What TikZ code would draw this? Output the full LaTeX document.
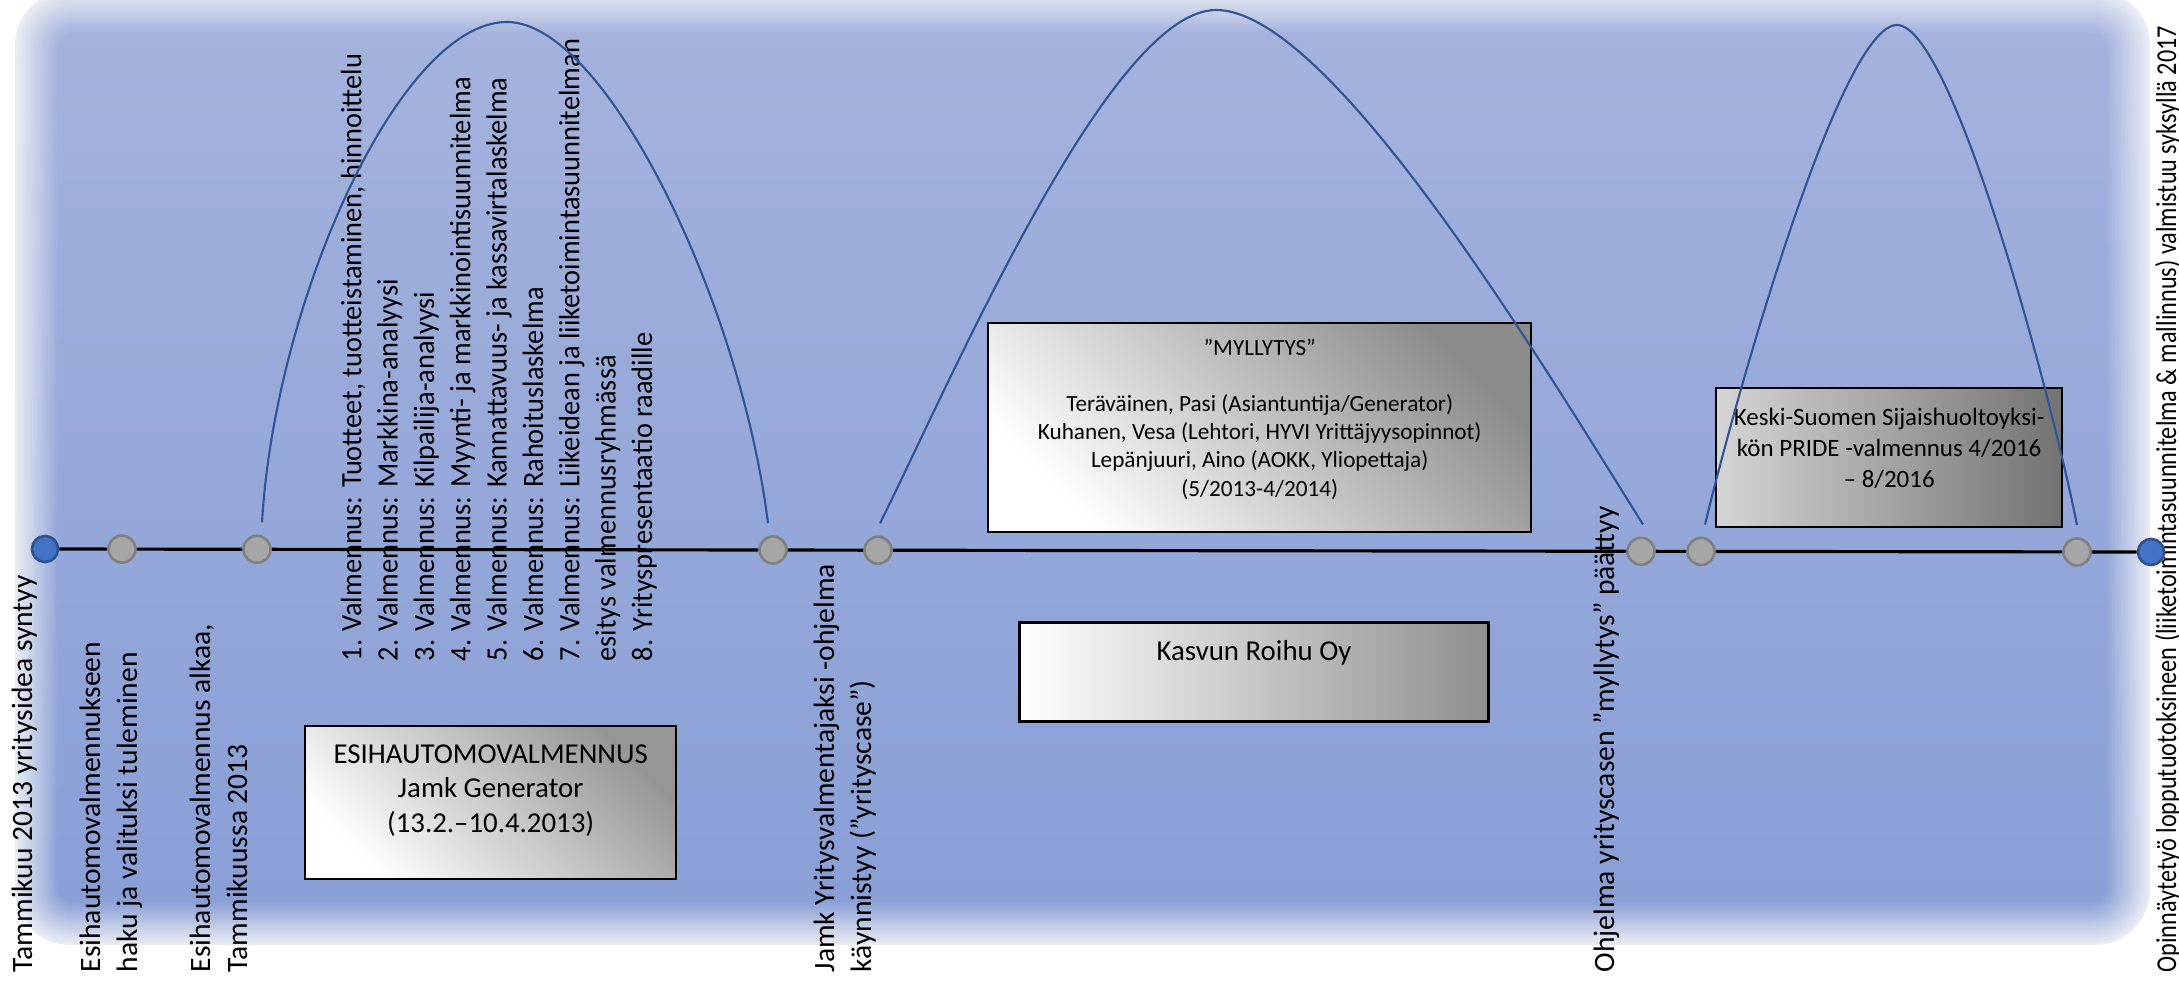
\documentclass[tikz,border=0pt]{standalone}
\usepackage{fontspec}
\setmainfont{Carlito}
\newfontfamily\listfont[FakeStretch=0.96]{Carlito}
\newfontfamily\slimfont[FakeStretch=0.84]{Carlito}
\usetikzlibrary{calc}

\definecolor{bgtop}{RGB}{164,178,221}
\definecolor{bgbot}{RGB}{137,159,214}
\definecolor{bgedge}{RGB}{238,240,245}
\definecolor{arcblue}{RGB}{47,85,151}
\definecolor{dotgray}{RGB}{166,166,166}
\definecolor{dotrim}{RGB}{128,128,128}
\definecolor{dotblue}{RGB}{68,114,196}
\definecolor{dotblueline}{RGB}{47,82,143}
\definecolor{shadeA}{RGB}{150,150,150}
\definecolor{shadeB}{RGB}{140,140,140}
\definecolor{shadeC}{RGB}{143,143,143}
\definecolor{shadeCl}{RGB}{213,213,213}
\definecolor{shadeCr}{RGB}{114,114,114}

\tikzset{
  event/.style={circle, fill=dotgray, draw=dotrim, line width=0.75pt,
    minimum size=0.27cm, inner sep=0pt},
  endpoint/.style={circle, fill=dotblue, draw=dotblueline, line width=0.75pt,
    minimum size=0.26cm, inner sep=0pt},
  % multi-line nodes sit on the baseline of their last line
  vlabel/.style={rotate=90, anchor=base west, align=left, inner sep=0pt,
    font=\fontsize{8.4}{10.5}\selectfont},
  panel/.style={draw=black, line width=0.6pt, inner sep=0pt, anchor=north west},
  paneltext/.style={anchor=base, align=center, inner sep=0pt},
  arcline/.style={draw=arcblue, line width=0.6pt},
  timeline/.style={draw=black, line width=0.9pt}
}

\begin{document}
\begin{tikzpicture}[x=0.01cm, y=-0.01cm]
\useasboundingbox (0,0) rectangle (2179,985);
\clip (0,0) rectangle (2179,985);
\fill[white] (0,0) rectangle (2179,985);

% soft-edged blue backdrop
\foreach \k in {0,...,19}{
  \pgfmathsetmacro\inset{2.25*\k}
  \pgfmathtruncatemacro\mix{5*(\k+1)}
  \pgfmathsetmacro\rad{0.55-0.02*\k}
  \shade[rounded corners=\rad cm, top color=bgtop!\mix!bgedge, bottom color=bgbot!\mix!bgedge]
    (15+\inset,-10+\inset) rectangle (2150-\inset,945-\inset);
}

% panels
\node[panel, minimum width=3.71cm, minimum height=1.53cm,
      top color=shadeA, bottom color=white, shading angle=-45] (esi) at (304,725) {};
\node[paneltext, font=\fontsize{8.2}{9.7}\selectfont] (esitext) at ($(esi.north)+(0,107)$)
  {ESIHAUTOMOVALMENNUS\\Jamk Generator\\(13.2.–10.4.2013)};

\node[panel, minimum width=5.43cm, minimum height=2.09cm,
      top color=shadeB, bottom color=white, shading angle=-45] (myl) at (987,322) {};
\node[paneltext, font=\fontsize{6.6}{8}\selectfont] (myltext) at ($(myl.north)+(0,174)$)
  {”MYLLYTYS”\\[8pt]Teräväinen, Pasi (Asiantuntija/Generator)\\Kuhanen, Vesa (Lehtori, HYVI Yrittäjyysopinnot)\\Lepänjuuri, Aino (AOKK, Yliopettaja)\\(5/2013-4/2014)};

\node[panel, line width=0.8pt, minimum width=4.69cm, minimum height=0.99cm,
      left color=white, right color=shadeC] (kas) at (1018,621) {};
\node[paneltext, font=\fontsize{8.2}{9.7}\selectfont] (kastext) at ($(kas.north)+(0,39)$)
  {Kasvun Roihu Oy};

\node[panel, minimum width=3.46cm, minimum height=1.39cm,
      left color=shadeCl, right color=shadeCr] (pride) at (1715,387) {};
\node[paneltext, font=\fontsize{7.1}{8.8}\selectfont] (pridetext) at ($(pride.north)+(0,100)$)
  {Keski-Suomen Sijaishuoltoyksi-\\kön PRIDE -valmennus 4/2016\\– 8/2016};

% vertical captions under the timeline
\node[vlabel] (c0) at (32,973) {Tammikuu 2013 yritysidea syntyy};
\node[vlabel] (c1) at (137,973) {Esihautomovalmennukseen\\haku ja valituksi tuleminen};
\node[vlabel] (c2) at (247,973) {Esihautomovalmennus alkaa,\\Tammikuussa 2013};
\node[vlabel, font=\listfont\fontsize{8.4}{10.33}\selectfont] (steps) at (652,662)
  {1. Valmennus: Tuotteet, tuotteistaminen, hinnoittelu\\
   2. Valmennus: Markkina-analyysi\\
   3. Valmennus: Kilpailija-analyysi\\
   4. Valmennus: Myynti- ja markkinointisuunnitelma\\
   5. Valmennus: Kannattavuus- ja kassavirtalaskelma\\
   6. Valmennus: Rahoituslaskelma\\
   7. Valmennus: Liikeidean ja liiketoimintasuunnitelman\\
   esitys valmennusryhmässä\\
   8. Yrityspresentaatio raadille};
\node[vlabel] (c3) at (871,973) {Jamk Yritysvalmentajaksi -ohjelma\\käynnistyy (”yrityscase”)};
\node[vlabel] (c4) at (1614,973) {Ohjelma yrityscasen ”myllytys” päättyy};
\node[vlabel, font=\slimfont\fontsize{8.2}{9}\selectfont] (c5) at (2176,973)
  {Opinnäytetyö lopputuotoksineen (liiketoimintasuunnitelma \& mallinnus) valmistuu syksyllä 2017};

% timeline events
\node[endpoint] (d0) at (45,549) {};
\node[event] (g1) at (122,549.1) {};
\node[event] (g2) at (257,549.3) {};
\node[event] (g3) at (773,550) {};
\node[event] (g4) at (878,550.2) {};
\node[event] (g5) at (1641,551.3) {};
\node[event] (g6) at (1701,551.4) {};
\node[event] (g7) at (2077,551.9) {};
\node[endpoint] (d8) at (2151,552) {};

% arcs spanning the phases
\draw[arcline] ($(g2.north)+(5,-12)$) .. controls +(13,-223) and (400,22) .. (507,22)
  .. controls (605,22) and (740,300) .. ($(g3.north)+(-5,-12)$);
\draw[arcline] ($(g4.north)+(2,-12)$) .. controls +(72,-145) and (1110,10) .. (1216,10)
  .. controls (1330,10) and (1540,360) .. ($(g5.north)+(2,-12)$);
\draw[arcline] ($(g6.north)+(4,-12)$) .. controls +(30,-125) and (1840,25) .. (1897,25)
  .. controls (1952,25) and (2050,390) .. ($(g7.north)+(0,-12)$);

% the timeline itself
\draw[timeline] (d0) -- (g1) -- (g2) -- (g3) -- (g4) -- (g5) -- (g6) -- (g7) -- (d8);
\end{tikzpicture}
\end{document}
